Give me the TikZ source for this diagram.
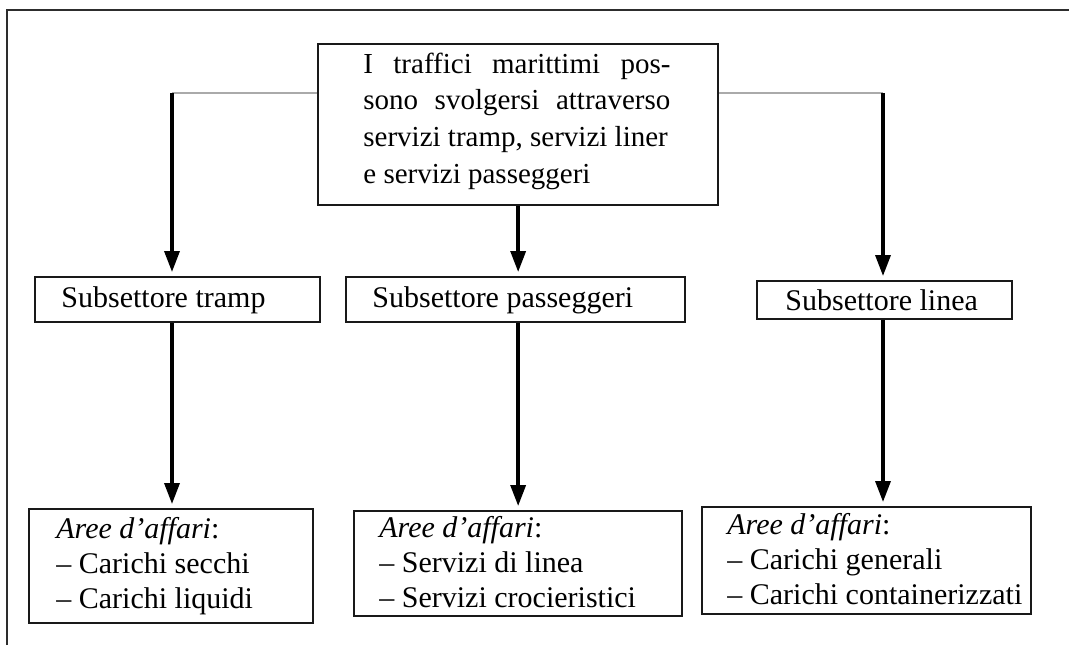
\documentclass[tikz,border=0pt]{standalone}
\usepackage{fontspec}
\setmainfont{Liberation Serif}
\usetikzlibrary{arrows.meta}
\definecolor{framegray}{RGB}{45,45,45}
\definecolor{linkgray}{RGB}{170,170,170}
\begin{document}
\begin{tikzpicture}[x=0.5pt,y=-0.5pt,
  box/.style={draw=black!90, line width=1.15pt, inner sep=0pt, anchor=north west, fill=white},
  txt/.style={inner sep=0pt, align=left, font=\fontsize{15pt}{17.5pt}\selectfont},
  toptxt/.style={inner sep=0pt, align=left, font=\fontsize{14.5pt}{18.35pt}\selectfont},
  frame/.style={draw=framegray, line width=1.4pt},
  link/.style={draw=linkgray, line width=1.4pt},
  arr/.style={draw=black, line width=1.7pt, -{Triangle[width=7.5pt,length=10.5pt]}, shorten >=2pt}
]
\useasboundingbox (0,0) rectangle (1069,645);
\draw[frame] (7,645) -- (7,10) -- (1069,10);

% boxes
\node[box, minimum width=200pt, minimum height=80.5pt] (top) at (317,43) {};
\node[box, minimum width=142.5pt, minimum height=22.5pt] (tramp) at (34,276) {};
\node[box, minimum width=169.5pt, minimum height=22.5pt] (pass) at (345,276) {};
\node[box, minimum width=127.5pt, minimum height=19pt] (linea) at (756,280) {};
\node[box, minimum width=142pt, minimum height=57pt] (aL) at (28,508) {};
\node[box, minimum width=164pt, minimum height=52.5pt] (aM) at (353,510) {};
\node[box, minimum width=164.5pt, minimum height=53.5pt] (aR) at (701,506) {};

% texts
\node[toptxt, anchor=west] (toptext) at (363,121) {\makebox[153.5pt][s]{I traffici marittimi pos-}\\ \makebox[153.5pt][s]{sono svolgersi attraverso}\\ servizi tramp, servizi liner\\ e servizi passeggeri};
\node[txt, anchor=base west] (tramptext) at (61,307) {Subsettore tramp};
\node[txt, anchor=base west] (passtext) at (372,307) {Subsettore passeggeri};
\node[txt, anchor=base west] (lineatext) at (785,310) {Subsettore linea};
\node[txt, anchor=west] (aLt) at (56,566) {\textit{Aree d’affari}:\\– Carichi secchi\\– Carichi liquidi};
\node[txt, anchor=west] (aMt) at (379,562.5) {\textit{Aree d’affari}:\\– Servizi di linea\\– Servizi crocieristici};
\node[txt, anchor=west] (aRt) at (727,559.5) {\textit{Aree d’affari}:\\– Carichi generali\\– Carichi containerizzati};

% connectors
\coordinate (jl) at (172,93);
\coordinate (jr) at (883,93);
\draw[link] (top.west |- jl) -- (jl);
\draw[link] (top.east |- jr) -- (jr);
\draw[arr] (jl) -- (jl |- tramp.north);
\draw[arr] (top.south) -- (top.south |- pass.north);
\draw[arr] (jr) -- (jr |- linea.north);
\draw[arr] (jl |- tramp.south) -- (jl |- aL.north);
\draw[arr] (top.south |- pass.south) -- (top.south |- aM.north);
\draw[arr] (jr |- linea.south) -- (jr |- aR.north);
\end{tikzpicture}
\end{document}
